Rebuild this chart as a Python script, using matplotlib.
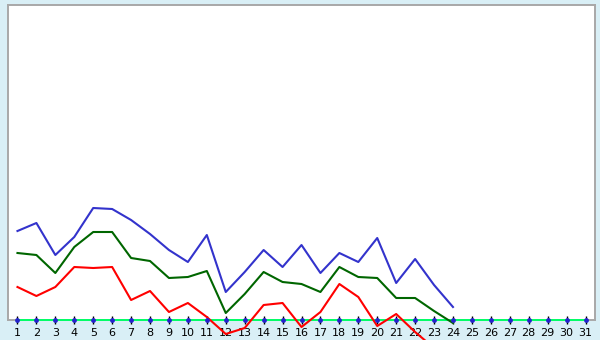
import matplotlib
matplotlib.use("Agg")
import matplotlib.pyplot as plt

days = list(range(1, 32))
blue_vals = [89, 97, 65, 83, 112, 111, 100, 86, 70, 58, 85, 28, 48, 70, 53, 75, 47, 67, 58, 82, 37, 61, 35, 13]
green_vals = [67, 65, 47, 73, 88, 88, 62, 59, 42, 43, 49, 7, 26, 48, 38, 36, 28, 53, 43, 42, 22, 22, 9, -3]
red_vals = [33, 24, 33, 53, 52, 53, 20, 29, 8, 17, 3, -14, -8, 15, 17, -7, 8, 36, 23, -6, 6, -12, -28, -45]
zero_vals = [0] * 31
tick_labels = [str(d) for d in days]

fig = plt.figure(figsize=(6, 3.4), dpi=100)
fig.patch.set_facecolor("#d9eff6")
ax = fig.add_axes([8 / 600, 20 / 340, 587 / 600, 315 / 340])
ax.set_facecolor("white")
ax.set_xlim(0.5, 31.5)
ax.set_ylim(0, 315)

for s in ax.spines.values():
    s.set_color("#a8a8a8")
    s.set_linewidth(1.4)

ax.plot(days, zero_vals, color="#00ff66", lw=1.4, clip_on=False, zorder=3)
ax.plot(days[:len(blue_vals)], blue_vals, color="#3333cc", lw=1.5, clip_on=False, zorder=4)
ax.plot(days[:len(green_vals)], green_vals, color="#006600", lw=1.5, clip_on=False, zorder=4)
ax.plot(days[:len(red_vals)], red_vals, color="#ff0000", lw=1.5, clip_on=False, zorder=4)

ax.set_xticks(days)
ax.set_xticklabels(tick_labels, fontsize=8, color="black")
ax.tick_params(axis="x", direction="inout", length=6, width=1, color="black", pad=3)
ax.set_yticks([])
ax.scatter(days, zero_vals, marker="o", s=6, color="#2222cc", zorder=6, clip_on=False)

fig.savefig("out.png", dpi=100, facecolor=fig.get_facecolor())
